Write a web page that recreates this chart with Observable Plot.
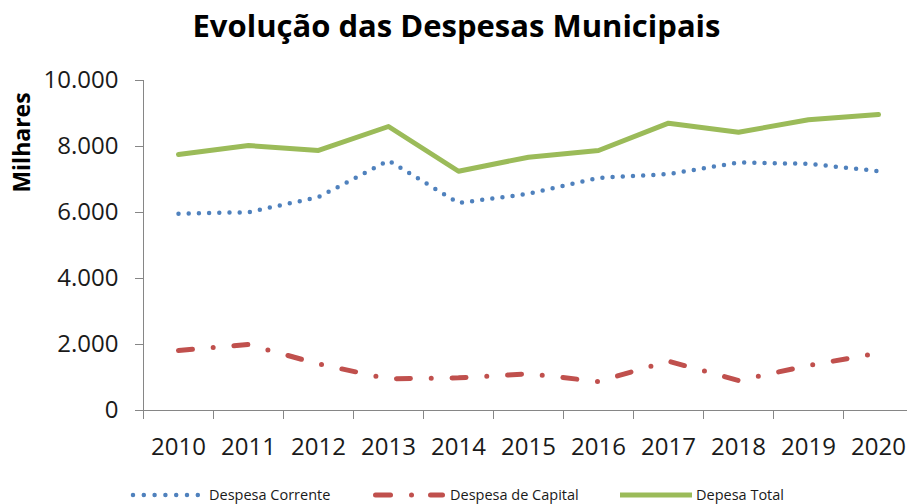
<!DOCTYPE html>
<html>
<head>
<meta charset="utf-8">
<script src="https://cdn.jsdelivr.net/npm/d3@7"></script>
<script src="https://cdn.jsdelivr.net/npm/@observablehq/plot@0.6"></script>
<style>
  html, body { margin: 0; padding: 0; background: #fff; }
  body { width: 907px; height: 504px; overflow: hidden; position: relative; font-family: "Open Sans", sans-serif; }
  #title { height: 55px; line-height: 50px; text-align: center; font-weight: bold; font-size: 31px; color: #000; padding-left: 6px; box-sizing: border-box; white-space: nowrap; }
  #chart { height: 410px; }
  #legend { position: absolute; top: 485px; left: 0; width: 907px; height: 20px; font-size: 14.5px; color: #1a1a1a; }
  .swatch { position: absolute; top: 0; }
  .label { position: absolute; top: 0; line-height: 20px; white-space: nowrap; }
</style>
</head>
<body>
<div id="title">Evolução das Despesas Municipais</div>
<div id="chart"></div>
<div id="legend"></div>
<script>
// ---- data ----
const years = [2010, 2011, 2012, 2013, 2014, 2015, 2016, 2017, 2018, 2019, 2020];
const despesaCorrente = [5960, 6010, 6465, 7576, 6290, 6566, 7050, 7165, 7515, 7475, 7253];
const despesaCapital = [1818, 2000, 1410, 960, 990, 1111, 879, 1495, 909, 1364, 1740];
const despesaTotal = [7758, 8030, 7880, 8606, 7250, 7676, 7879, 8707, 8434, 8808, 8970];
const yTicks = [0, 2000, 4000, 6000, 8000, 10000];
const seriesNames = ["Despesa Corrente", "Despesa de Capital", "Depesa Total"];
const yLabel = "Milhares";

// ---- derived ----
const rows = years.map((year, i) => ({
  year,
  corrente: despesaCorrente[i],
  capital: despesaCapital[i],
  total: despesaTotal[i]
}));
const tickBounds = [...years.map(y => y - 0.5), years[years.length - 1] + 0.5];
const fmt = d3.formatLocale({decimal: ",", thousands: ".", grouping: [3], currency: ["", ""]}).format(",");

const blue = "#4F81BD", red = "#C0504D", green = "#9BBB59", axisGray = "#868686";
const dotDash = "0 10.2";
const dashDot = "14 20.8 0 20.8";

const chart = Plot.plot({
  width: 913,
  height: 410,
  marginTop: 25,
  marginBottom: 55,
  marginLeft: 143,
  marginRight: 0,
  style: {fontFamily: "'Open Sans', sans-serif", maxWidth: "none", overflow: "visible", background: "transparent"},
  x: {type: "linear", domain: [years[0] - 0.5, years[years.length - 1] + 0.5], label: null},
  y: {domain: [0, 10000], label: null},
  marks: [
    Plot.axisY({ticks: yTicks, tickSize: 8, tickPadding: 17, tickFormat: fmt, fontSize: 24, stroke: axisGray, fill: "#1a1a1a", label: null}),
    Plot.axisX({ticks: tickBounds, tickSize: 9, tickFormat: () => "", stroke: axisGray, label: null}),
    Plot.axisX({ticks: years, tickSize: 0, tickPadding: 27, tickFormat: d => String(d), fontSize: 24, fill: "#1a1a1a", label: null}),
    Plot.ruleX([tickBounds[0]], {stroke: axisGray}),
    Plot.ruleY([0], {stroke: axisGray}),
    Plot.text([yLabel], {frameAnchor: "top-left", rotate: -90, dx: -130, dy: 62, fontSize: 23, fontWeight: "bold", textAnchor: "middle", fill: "#000"}),
    Plot.line(rows, {x: "year", y: "corrente", stroke: blue, strokeWidth: 4.5, strokeDasharray: dotDash, strokeLinecap: "round"}),
    Plot.line(rows, {x: "year", y: "capital", stroke: red, strokeWidth: 5, strokeDasharray: dashDot, strokeLinecap: "round"}),
    Plot.line(rows, {x: "year", y: "total", stroke: green, strokeWidth: 5, strokeLinejoin: "round"})
  ]
});
document.getElementById("chart").appendChild(chart);

// ---- legend ----
const ns = "http://www.w3.org/2000/svg";
const legend = document.getElementById("legend");
function addSwatch(left, width, draw) {
  const svg = document.createElementNS(ns, "svg");
  svg.setAttribute("class", "swatch");
  svg.setAttribute("width", width);
  svg.setAttribute("height", 20);
  svg.style.left = left + "px";
  draw(svg);
  legend.appendChild(svg);
}
function seg(svg, x1, x2, color, w, cap, dash) {
  const l = document.createElementNS(ns, "line");
  l.setAttribute("x1", x1); l.setAttribute("x2", x2);
  l.setAttribute("y1", 10); l.setAttribute("y2", 10);
  l.setAttribute("stroke", color); l.setAttribute("stroke-width", w);
  l.setAttribute("stroke-linecap", cap);
  if (dash) l.setAttribute("stroke-dasharray", dash);
  svg.appendChild(l);
}
function addLabel(left, text) {
  const s = document.createElement("div");
  s.className = "label";
  s.style.left = left + "px";
  s.textContent = text;
  legend.appendChild(s);
}
addSwatch(130, 72, svg => seg(svg, 3, 70, blue, 4.5, "round", "0 10.8"));
addLabel(209, seriesNames[0]);
addSwatch(370, 80, svg => {
  seg(svg, 5.5, 20.5, red, 5, "round");
  seg(svg, 41.5, 41.5, red, 5, "round");
  seg(svg, 60.5, 72.5, red, 5, "round");
});
addLabel(450, seriesNames[1]);
addSwatch(620, 72, svg => seg(svg, 0, 72, green, 5, "butt"));
addLabel(696, seriesNames[2]);
</script>
</body>
</html>
